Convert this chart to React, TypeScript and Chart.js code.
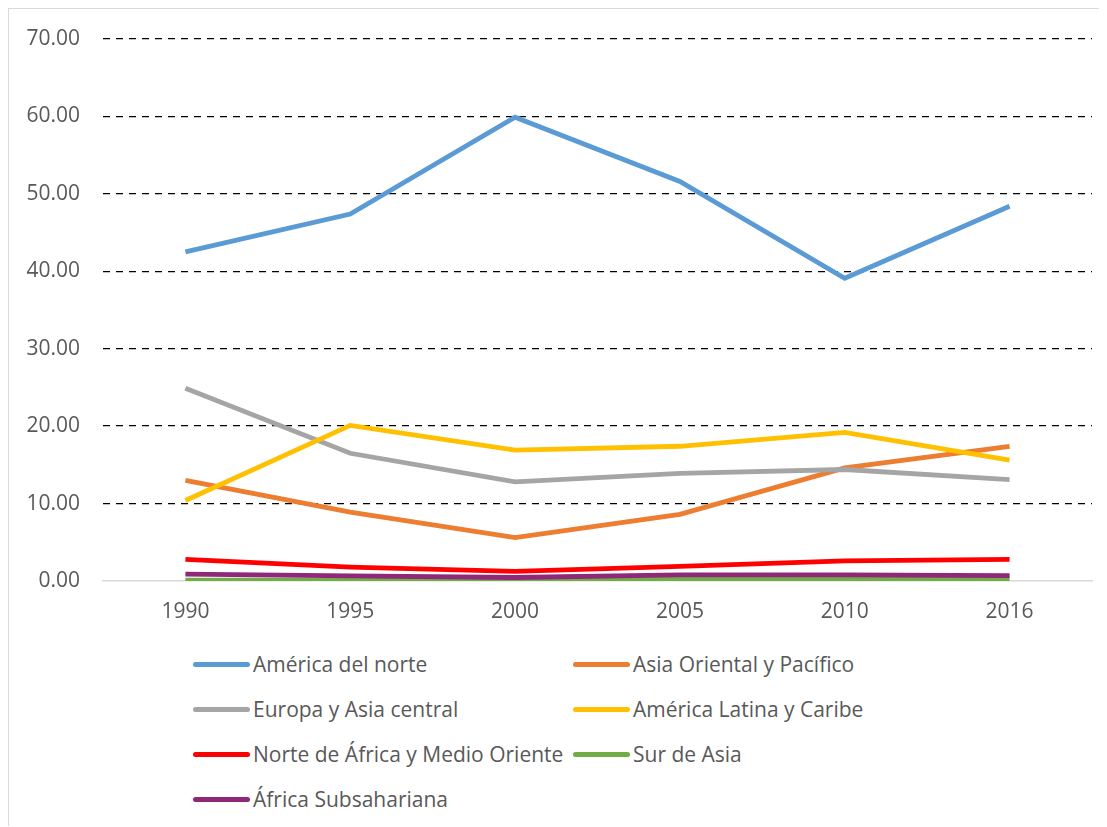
import React, { useEffect, useRef } from "react";
import { Chart, registerables } from "chart.js";

Chart.register(...registerables);

const years = ["1990", "1995", "2000", "2005", "2010", "2016"];
const seriesNames = [
  "América del norte",
  "Asia Oriental y Pacífico",
  "Europa y Asia central",
  "América Latina y Caribe",
  "Norte de África y Medio Oriente",
  "Sur de Asia",
  "África Subsahariana",
];
const americaNorte = [42.5, 47.4, 59.9, 51.6, 39.1, 48.4];
const asiaOriental = [13.0, 8.9, 5.6, 8.6, 14.6, 17.4];
const europaAsia = [24.9, 16.5, 12.8, 13.9, 14.4, 13.1];
const americaLatina = [10.4, 20.1, 16.9, 17.4, 19.2, 15.6];
const norteAfrica = [2.8, 1.8, 1.25, 1.9, 2.6, 2.8];
const surAsia = [0.1, 0.1, 0.1, 0.2, 0.2, 0.3];
const africaSub = [0.9, 0.65, 0.45, 0.8, 0.8, 0.7];
const seriesValues = [americaNorte, asiaOriental, europaAsia, americaLatina, norteAfrica, surAsia, africaSub];
const colors = ["#5B9BD5", "#ED7D31", "#A5A5A5", "#FFC000", "#FF0000", "#70AD47", "#90287A"];
const yTicks = [0, 10, 20, 30, 40, 50, 60, 70];

const FONT = "'Open Sans', sans-serif";
const TEXT = "#595959";

export default function App() {
  const ref = useRef<HTMLCanvasElement | null>(null);
  useEffect(() => {
    if (!ref.current) return;
    const n = seriesValues.length;
    const chart = new Chart(ref.current, {
      type: "line",
      data: {
        labels: years,
        datasets: seriesValues.map((v, i) => ({
          label: seriesNames[i],
          data: v,
          borderColor: colors[i],
          backgroundColor: colors[i],
          borderWidth: 4.8,
          pointRadius: 0,
          tension: 0,
          fill: false,
          order: n - 1 - i,
        })),
      },
      options: {
        animation: false,
        responsive: false,
        maintainAspectRatio: false,
        layout: { padding: { top: 30, right: 15, left: 0, bottom: 0 } },
        plugins: { legend: { display: false }, tooltip: { enabled: false } },
        scales: {
          x: {
            offset: true,
            grid: { display: false },
            border: { display: true, color: "#d9d9d9", width: 1.5 },
            ticks: { color: TEXT, font: { family: FONT, size: 21 }, padding: 10, maxRotation: 0 },
            afterFit: (s: any) => { s.height = 50; },
          },
          y: {
            min: 0,
            max: 70,
            afterBuildTicks: (s: any) => { s.ticks = yTicks.map((v) => ({ value: v })); },
            grid: {
              drawTicks: false,
              color: (c: any) => (c.tick && c.tick.value === 0 ? "rgba(0,0,0,0)" : "#000000"),
              lineWidth: 1.3,
            },
            border: { display: false, dash: [7, 6] },
            ticks: {
              color: TEXT,
              font: { family: FONT, size: 21 },
              padding: 23,
              callback: (v: any) => Number(v).toFixed(2),
            },
            afterFit: (s: any) => { s.width = 94; s.paddingTop = 0; s.paddingBottom = 0; },
          },
        },
      },
    });
    return () => chart.destroy();
  }, []);

  const legendRows = [[0, 1], [2, 3], [4, 5], [6]];
  return (
    <div style={{ position: "relative", width: 1098, height: 818, borderTop: "1px solid #d9d9d9", borderLeft: "1px solid #d9d9d9", boxSizing: "border-box", background: "#fff" }}>
      <canvas ref={ref} width={1098} height={622} style={{ display: "block", width: 1098, height: 622 }} />
      {legendRows.map((row, r) =>
        row.map((idx, c) => (
          <div key={idx} style={{ position: "absolute", left: c === 0 ? 184 : 564, top: 641 + r * 45, display: "flex", alignItems: "center", height: 28, fontFamily: FONT, fontSize: 21, color: TEXT, whiteSpace: "nowrap" }}>
            <span style={{ display: "inline-block", width: 57, height: 5, borderRadius: 2.5, background: colors[idx], marginRight: 3 }} />
            <span>{seriesNames[idx]}</span>
          </div>
        ))
      )}
    </div>
  );
}
